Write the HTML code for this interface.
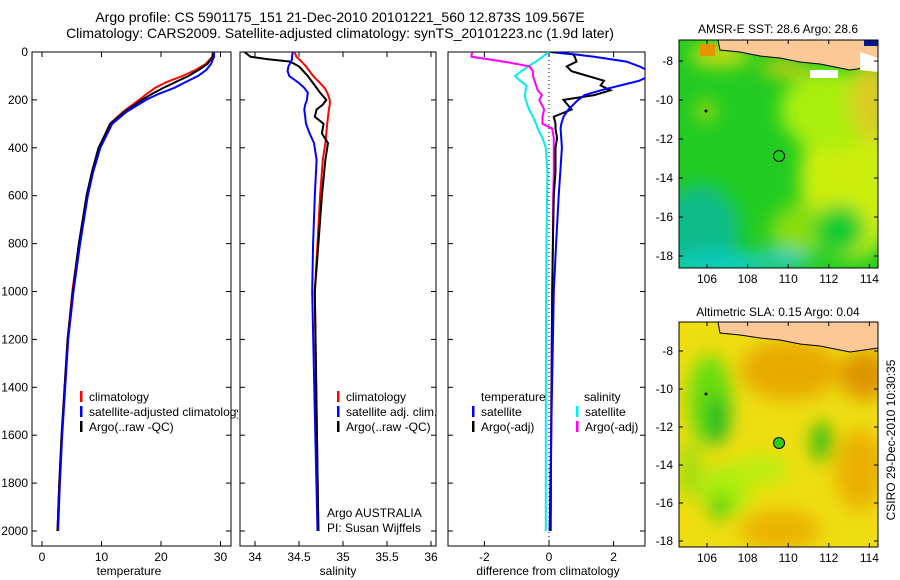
<!DOCTYPE html>
<html><head><meta charset="utf-8"><style>
body{margin:0;background:#fff;}
svg{display:block;font-family:"Liberation Sans",sans-serif;}
text{fill:#000;}
</style></head><body>
<svg id="fig" width="900" height="580" viewBox="0 0 900 580" xmlns="http://www.w3.org/2000/svg">
<defs>
<clipPath id="c1"><rect x="32" y="52" width="199" height="494"/></clipPath>
<clipPath id="c2"><rect x="240" y="52" width="196" height="494"/></clipPath>
<clipPath id="c3"><rect x="448" y="52" width="197" height="494"/></clipPath>
<clipPath id="c1l"><rect x="32" y="52" width="206" height="494"/></clipPath>
<clipPath id="m1"><rect x="679" y="40" width="199" height="228"/></clipPath>
<clipPath id="m2"><rect x="679" y="322" width="199" height="225"/></clipPath>
<filter id="bl" x="-20%" y="-20%" width="140%" height="140%"><feGaussianBlur stdDeviation="9"/></filter>
</defs>
<text x="340" y="22" font-size="14" text-anchor="middle">Argo profile: CS 5901175_151 21-Dec-2010 20101221_560 12.873S 109.567E</text>
<text x="340" y="38" font-size="14" text-anchor="middle">Climatology: CARS2009. Satellite-adjusted climatology: synTS_20101223.nc (1.9d later)</text>
<g id="g1"></g>
<g id="g2"></g>
<g id="g3"></g>
<g id="map1" clip-path="url(#m1)">
<rect x="679" y="40" width="199" height="228" fill="#22cc22"/>
<g filter="url(#bl)">
<ellipse cx="850" cy="180" rx="50" ry="80" fill="#ccee11"/>
<ellipse cx="830" cy="110" rx="50" ry="40" fill="#aaee11"/>
<ellipse cx="800" cy="230" rx="30" ry="25" fill="#88dd11"/>
<ellipse cx="700" cy="230" rx="40" ry="45" fill="#11bb88"/>
<ellipse cx="720" cy="265" rx="50" ry="15" fill="#11ccbb"/>
<ellipse cx="780" cy="260" rx="30" ry="10" fill="#22ccbb"/>
<ellipse cx="840" cy="230" rx="25" ry="25" fill="#11cc33"/>
<ellipse cx="720" cy="55" rx="30" ry="12" fill="#ccdd11"/>
<ellipse cx="785" cy="68" rx="25" ry="8" fill="#ddcc11"/>
<ellipse cx="706" cy="111" rx="8" ry="10" fill="#ccdd11"/>
<ellipse cx="870" cy="100" rx="20" ry="40" fill="#ddcc22"/>
</g>
<rect x="700" y="44" width="15" height="12" fill="#e69400"/>
<path d="M718 40 L720 50 L740 52 L760 56 L780 58 L800 62 L820 64 L850 70 L878 66 L878 40 Z" fill="#fcc896" stroke="#000" stroke-width="1"/>
<path d="M860 52 L878 58 L878 72 L860 70 Z" fill="#fff"/>
<rect x="810" y="70" width="28" height="8" fill="#fff"/>
<rect x="864" y="40" width="14" height="6" fill="#001a8c"/>
</g>
<rect x="679" y="40" width="199" height="228" fill="none" stroke="#000"/>
<circle cx="779" cy="156" r="5.5" fill="none" stroke="#000"/>
<circle cx="706" cy="111" r="1.5" fill="#000"/>
<text x="778" y="33" font-size="12" text-anchor="middle">AMSR-E SST: 28.6 Argo: 28.6</text>
<g id="map2" clip-path="url(#m2)">
<rect x="679" y="322" width="199" height="225" fill="#eedd11"/>
<g filter="url(#bl)">
<ellipse cx="790" cy="370" rx="50" ry="30" fill="#e8aa00"/>
<ellipse cx="865" cy="375" rx="25" ry="25" fill="#dd9400"/>
<ellipse cx="860" cy="470" rx="25" ry="40" fill="#eab000"/>
<ellipse cx="780" cy="530" rx="40" ry="20" fill="#eab200"/>
<ellipse cx="710" cy="400" rx="22" ry="45" fill="#66dd11"/>
<ellipse cx="717" cy="420" rx="12" ry="25" fill="#22bb22"/>
<ellipse cx="822" cy="442" rx="10" ry="20" fill="#22bb11"/>
<ellipse cx="725" cy="490" rx="25" ry="25" fill="#aaee11"/>
<ellipse cx="720" cy="507" rx="10" ry="12" fill="#33cc11"/>
<ellipse cx="760" cy="470" rx="30" ry="15" fill="#bbee11"/>
<ellipse cx="690" cy="470" rx="10" ry="30" fill="#99dd11"/>
</g>
<path d="M718 322 L720 333 L740 335 L760 338 L780 340 L800 344 L820 346 L850 352 L878 348 L878 322 Z" fill="#fcc896" stroke="#000" stroke-width="1"/>
</g>
<rect x="679" y="322" width="199" height="225" fill="none" stroke="#000"/>
<circle cx="779" cy="443" r="5.5" fill="#33cc11" stroke="#000"/>
<circle cx="706" cy="394" r="1.5" fill="#000"/>
<text x="778" y="316" font-size="12" text-anchor="middle">Altimetric SLA: 0.15 Argo: 0.04</text>
<text transform="translate(895,440) rotate(-90)" font-size="12" text-anchor="middle">CSIRO 29-Dec-2010 10:30:35</text>
<g id="mapaxes"></g>
</svg>
<script>
// depth levels (dbar)
const tDepth=[0,20,50,75,100,125,150,175,200,250,300,400,500,600,800,1000,1200,1400,1600,1800,2000];
const tClim=[28.7,28.6,27.5,25.8,23.6,21.0,19.0,17.6,16.3,13.6,11.4,9.6,8.4,7.5,6.2,5.1,4.3,3.8,3.3,2.9,2.6];
const tSat=[28.9,28.9,28.4,27.6,26.2,24.2,22.2,19.6,17.5,14.2,11.8,9.8,8.6,7.7,6.4,5.3,4.4,3.9,3.4,3.0,2.7];
const tArgo=[28.8,28.7,27.8,26.3,24.6,22.5,20.4,18.5,16.8,13.8,11.5,9.5,8.4,7.5,6.2,5.2,4.3,3.8,3.3,2.9,2.6];
const sDepth=[0,20,30,40,60,80,100,130,150,170,200,220,240,270,300,340,380,450,600,800,1000,1500,2000];
const sClim=[34.45,34.47,34.5,34.53,34.58,34.62,34.66,34.74,34.79,34.82,34.85,34.85,34.84,34.83,34.82,34.81,34.8,34.77,34.74,34.71,34.68,34.7,34.72];
const sSat=[34.43,34.42,34.42,34.41,34.38,34.37,34.39,34.5,34.56,34.6,34.59,34.57,34.56,34.57,34.58,34.62,34.67,34.7,34.68,34.66,34.65,34.68,34.71];
const sArgo=[33.88,33.95,34.15,34.4,34.5,34.55,34.6,34.66,34.7,34.74,34.81,34.77,34.7,34.68,34.78,34.76,34.83,34.8,34.76,34.72,34.68,34.7,34.72];
const dDepth=[0,10,20,40,60,80,100,120,140,160,180,200,240,270,300,320,360,400,500,600,800,1000,1500,2000];
const dTSat=[0.2,0.8,1.4,2.4,2.8,3.1,3.1,2.8,2.2,1.6,1.1,0.9,0.6,0.45,0.38,0.36,0.38,0.4,0.35,0.3,0.22,0.15,0.08,0.02];
const dTArgo=[0.05,0.75,0.8,0.85,0.55,0.7,1.2,1.7,1.6,1.9,1.4,0.45,0.7,0.15,0.2,0.2,0.25,0.2,0.2,0.15,0.12,0.1,0.07,0.05];
const dSSat=[0.0,-0.1,-0.2,-0.4,-0.65,-0.85,-1.05,-0.9,-0.7,-0.72,-0.75,-0.72,-0.62,-0.5,-0.4,-0.35,-0.2,-0.1,-0.05,-0.06,-0.08,-0.09,-0.1,-0.1];
const dSArgo=[-2.35,-2.4,-2.4,-1.4,-0.6,-0.5,-0.5,-0.45,-0.4,-0.35,-0.22,-0.3,-0.15,-0.2,-0.2,0.1,0.15,0.15,0.15,0.13,0.12,0.1,0.07,0.05];
const depthTicks=[0,200,400,600,800,1000,1200,1400,1600,1800,2000];
const tTicks=[0,10,20,30];
const sTicks=[34,34.5,35,35.5,36];
const sTickLabels=["34","34.5","35","35.5","36"];
const dTicks=[-2,0,2];
const lonTicks=[106,108,110,112,114];
const latTicks=[-8,-10,-12,-14,-16,-18];

const NS="http://www.w3.org/2000/svg";
const Y0=52,Y1=546,PB=52,PE=531;
const yD=d=>PB+d*(PE-PB)/2000;
function mk(tag,attrs,parent,txt){const e=document.createElementNS(NS,tag);for(const k in attrs)e.setAttribute(k,attrs[k]);if(txt!==undefined)e.textContent=txt;parent.appendChild(e);return e;}
function panel(g,x0,x1,clip,xs,ticks,labels,xlabel,xlabelX,showY){
  mk('rect',{x:x0,y:Y0,width:x1-x0,height:Y1-Y0,fill:'none',stroke:'#000'},g);
  ticks.forEach((t,i)=>{const x=xs(t);
    mk('line',{x1:x,x2:x,y1:Y1,y2:Y1-5,stroke:'#000'},g);
    mk('line',{x1:x,x2:x,y1:Y0,y2:Y0+5,stroke:'#000'},g);
    const tl=mk('text',{x:x,y:Y1+15,'font-size':12,'text-anchor':'middle'},g,labels[i]);
    
    
  });
  depthTicks.forEach(d=>{const y=yD(d);
    mk('line',{x1:x0,x2:x0+5,y1:y,y2:y,stroke:'#000'},g);
    mk('line',{x1:x1,x2:x1-5,y1:y,y2:y,stroke:'#000'},g);
    if(showY){const t=mk('text',{x:x0-4,y:y+4,'font-size':12,'text-anchor':'end'},g,String(d));
      
      }
  });
  const xl=mk('text',{x:xlabelX,y:575,'font-size':12,'text-anchor':'middle'},g,xlabel);
  
  
}
function line(g,depths,vals,xs,color,clip,name){
  const pts=depths.map((d,i)=>xs(vals[i]).toFixed(1)+','+yD(d).toFixed(1)).join(' ');
  const p=mk('polyline',{points:pts,fill:'none',stroke:color,'stroke-width':2,'clip-path':'url(#'+clip+')'},g);
  
  
}
function legend(g,x,y,color,label,clip){
  mk('rect',{x:x,y:y-10,width:2.5,height:11,fill:color},g);
  const t=mk('text',{x:x+9,y:y,'font-size':12,'clip-path':clip?'url(#'+clip+')':''},g,label);
  
  
}
// panel 1
const g1=document.getElementById('g1');
const xT=v=>42+v*5.95;
panel(g1,32,231,'c1',xT,tTicks,tTicks.map(String),'temperature',129,true);
line(g1,tDepth,tClim,xT,'#ff0000','c1','temp-climatology-line');
line(g1,tDepth,tArgo,xT,'#000000','c1','temp-argo-line');
line(g1,tDepth,tSat,xT,'#0000ff','c1','temp-satellite-line');
legend(g1,80,401,'#ff0000','climatology','c1l');
legend(g1,80,416,'#0000ff','satellite-adjusted climatology','c1l');
legend(g1,80,431,'#000000','Argo(..raw -QC)','c1l');
// panel 2
const g2=document.getElementById('g2');
const xS=v=>255+(v-34)*88;
panel(g2,240,436,'c2',xS,sTicks,sTickLabels,'salinity',338,false);
line(g2,sDepth,sClim,xS,'#ff0000','c2','sal-climatology-line');
line(g2,sDepth,sArgo,xS,'#000000','c2','sal-argo-line');
line(g2,sDepth,sSat,xS,'#0000ff','c2','sal-satellite-line');
legend(g2,337,401,'#ff0000','climatology');
legend(g2,337,416,'#0000ff','satellite adj. clim.');
legend(g2,337,431,'#000000','Argo(..raw -QC)');
mk('text',{x:327,y:517,'font-size':12,},g2,'Argo AUSTRALIA');
mk('text',{x:327,y:532,'font-size':12,},g2,'PI: Susan Wijffels');
// panel 3
const g3=document.getElementById('g3');
const xDf=v=>549+v*32.3;
panel(g3,448,645,'c3',xDf,dTicks,dTicks.map(String),'difference from climatology',548,false);
mk('line',{x1:xDf(0),x2:xDf(0),y1:Y0,y2:Y1,stroke:'#000','stroke-dasharray':'1,3'},g3);
line(g3,dDepth,dSSat,xDf,'#00eeee','c3','sal-satellite-diff-line');
line(g3,dDepth,dSArgo,xDf,'#ff00ff','c3','sal-argo-diff-line');
line(g3,dDepth,dTArgo,xDf,'#000000','c3','temp-argo-diff-line');
line(g3,dDepth,dTSat,xDf,'#0000ff','c3','temp-satellite-diff-line');
mk('text',{x:481,y:401,'font-size':12},g3,'temperature');
mk('text',{x:584,y:401,'font-size':12},g3,'salinity');
legend(g3,472,416,'#0000ff','satellite');
legend(g3,472,431,'#000000','Argo(-adj)');
legend(g3,576,416,'#00eeee','satellite');
legend(g3,576,431,'#ff00ff','Argo(-adj)');
// map axes
const ga=document.getElementById('mapaxes');
const lx=l=>707+(l-106)*20.3;
[[40,268,61,19.5],[322,547,351,19]].forEach(([t,b,y8,s],mi)=>{
  lonTicks.forEach(l=>{const x=lx(l);
    mk('line',{x1:x,x2:x,y1:b,y2:b-4,stroke:'#000'},ga);
    mk('line',{x1:x,x2:x,y1:t,y2:t+4,stroke:'#000'},ga);
    const e=mk('text',{x:x,y:b+15,'font-size':12,'text-anchor':'middle'},ga,String(l));
    
    
  });
  latTicks.forEach(la=>{const y=y8+(-8-la)*s;
    mk('line',{x1:679,x2:683,y1:y,y2:y,stroke:'#000'},ga);
    mk('line',{x1:878,x2:874,y1:y,y2:y,stroke:'#000'},ga);
    const e=mk('text',{x:673,y:y+4,'font-size':12,'text-anchor':'end'},ga,String(la));
    
    
  });
});
</script>
</body></html>
